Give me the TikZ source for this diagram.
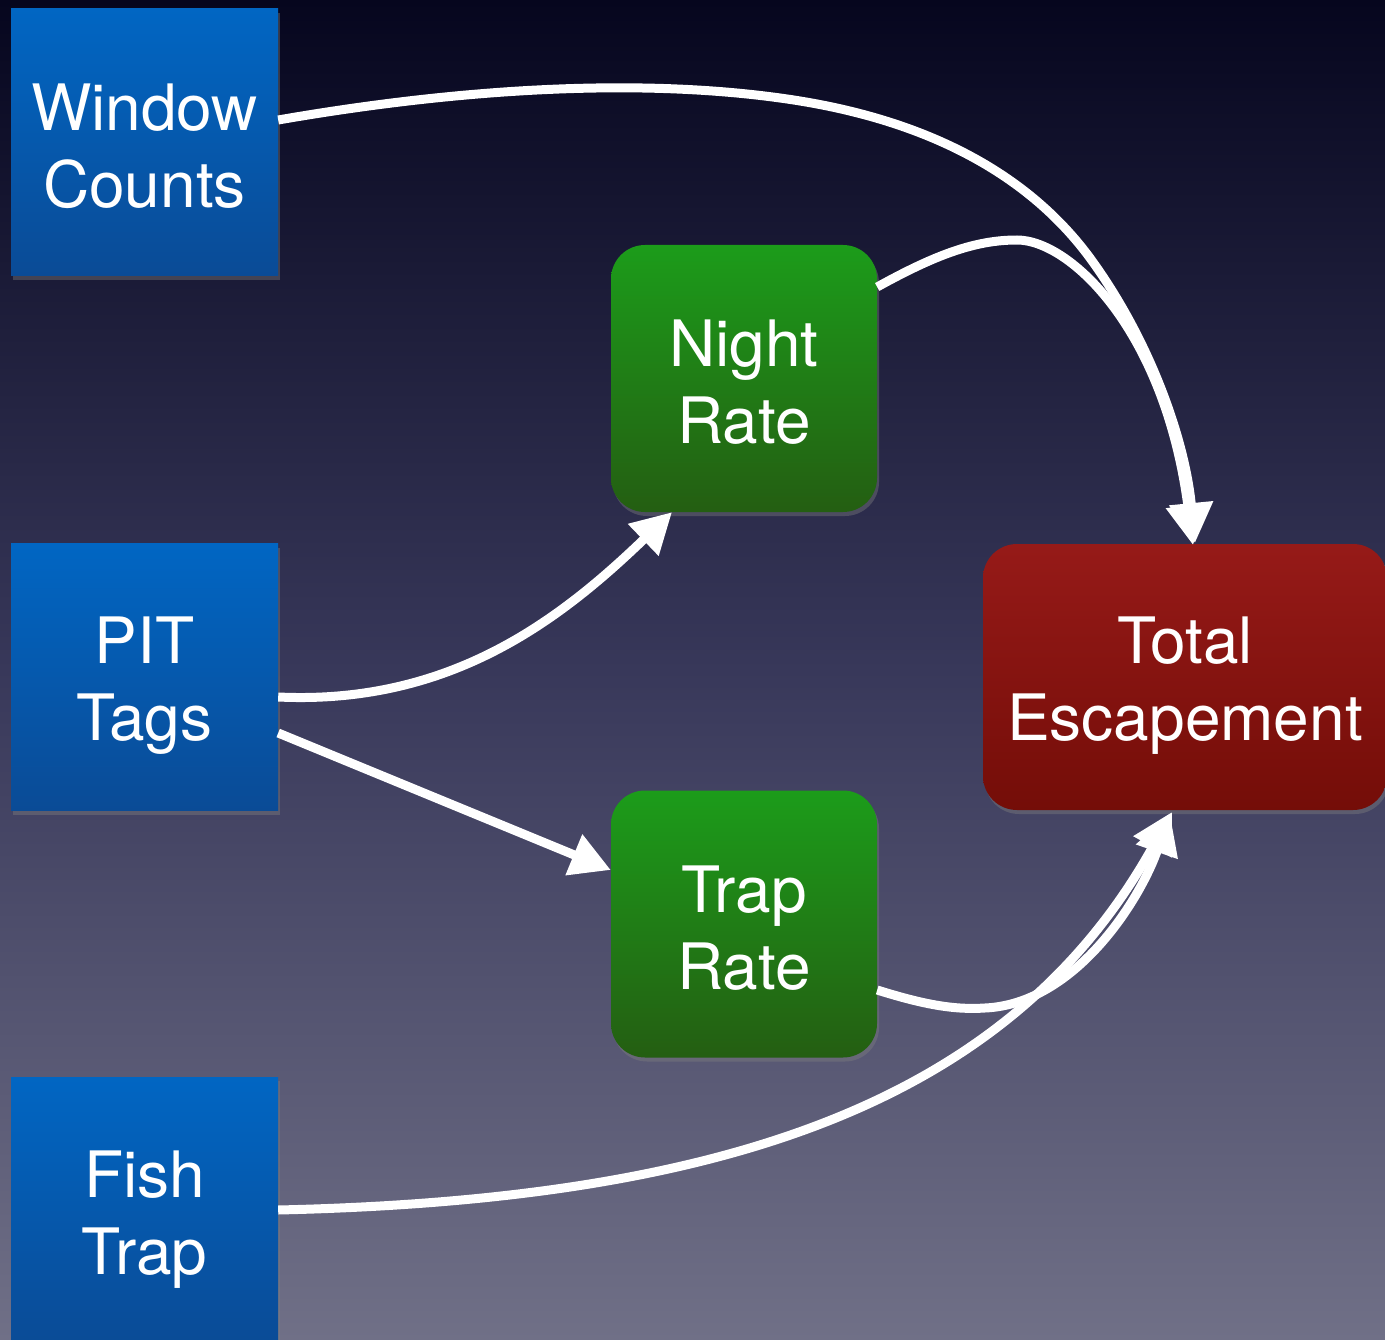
\documentclass[tikz,border=0pt]{standalone}
\usepackage{fontspec}
\setmainfont{TeX Gyre Heros}
\usetikzlibrary{arrows.meta,shadows}
\definecolor{bgtop}{RGB}{6,6,30}
\definecolor{bgmid}{RGB}{56,56,90}
\definecolor{bgbot}{RGB}{112,112,135}
\definecolor{bluetop}{RGB}{1,102,195}
\definecolor{bluebot}{RGB}{10,75,150}
\definecolor{greentop}{RGB}{28,156,26}
\definecolor{greenbot}{RGB}{36,94,18}
\definecolor{redtop}{RGB}{150,26,24}
\definecolor{redbot}{RGB}{116,13,8}
\tikzset{
  every node/.style={text=white, align=center, font=\fontsize{64}{77}\selectfont, inner sep=0pt},
  boxshadow/.style={drop shadow={shadow xshift=2pt, shadow yshift=-4pt, opacity=0.4}},
  srcbox/.style={minimum width=267pt, minimum height=267pt, top color=bluetop, bottom color=bluebot, boxshadow},
  midbox/.style={minimum width=266pt, minimum height=267pt, rounded corners=34pt, top color=greentop, bottom color=greenbot, boxshadow},
  outbox/.style={minimum width=404pt, minimum height=266pt, rounded corners=34pt, top color=redtop, bottom color=redbot, boxshadow},
  txt/.style={label={[yshift=-4pt]center:{#1}}},
  txtd/.style={label={[yshift=-9pt]center:{#1}}},
  flow/.style={draw=white, line width=9pt, -{Triangle[length=40pt,width=42pt]}}
}
\begin{document}
\begin{tikzpicture}[x=1pt,y=-1pt]
\useasboundingbox (0,0) rectangle (1385,1340);
\fill[top color=bgtop, bottom color=bgbot, middle color=bgmid] (0,0) rectangle (1385,1340);
\node[srcbox, txt={Window\\Counts}] (wc) at (144.5,142.5) {};
\node[srcbox, txtd={PIT\\Tags}] (pit) at (144.5,677) {};
\node[srcbox, txtd={Fish\\Trap}] (ft) at (144.5,1210.5) {};
\node[midbox, txt={Night\\Rate}] (nr) at (744,378.5) {};
\node[midbox, txt={Trap\\Rate}] (tr) at (744,924) {};
\node[outbox, txtd={Total\\Escapement}] (te) at (1185,677) {};
\coordinate (teT) at (1195,543);
\coordinate (teT2) at (1193,545);
\coordinate (teB) at (1172,812);
\coordinate (teB2) at (1170,814);
\coordinate (wm) at (780,98);
\coordinate (wm2) at (1090,258);
\coordinate (nm) at (1017,240);
\coordinate (tm) at (985,1008);
% Window Counts -> Total
\draw[flow] (wc.east |- 0,120) .. controls (480,85) and (650,80) .. (wm)
   .. controls (949,121) and (1040,190) .. (wm2)
   .. controls (1150,340) and (1185,440) .. (teT);
% Night Rate -> Total
\draw[flow] (nr.east |- 0,287) .. controls (935,255) and (975,240) .. (nm)
   .. controls (1070,240) and (1165,330) .. (teT2);
% PIT -> Night Rate
\draw[flow] (pit.east |- 0,697) .. controls (450,705) and (560,620) .. (nr.south west -| 672,0);
% PIT -> Trap Rate
\draw[flow] (pit.east |- 0,733) -- (tr.west |- 0,870);
% Trap Rate -> Total
\draw[flow] (tr.east |- 0,990) .. controls (925,1005) and (955,1010) .. (tm)
   .. controls (1075,1004) and (1140,900) .. (teB2);
% Fish Trap -> Total
\draw[flow] (ft.east |- 0,1210) .. controls (720,1200) and (1010,1105) .. (teB);
\end{tikzpicture}
\end{document}
